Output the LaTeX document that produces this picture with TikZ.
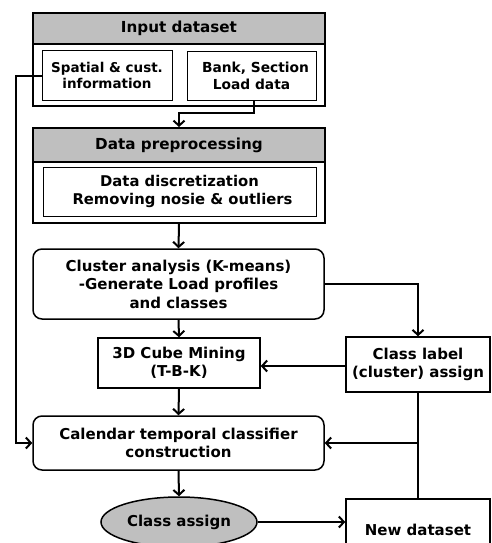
\documentclass[tikz,border=0pt]{standalone}
\usepackage{fontspec}
\setmainfont{DejaVu Sans}
\usetikzlibrary{arrows.meta,shapes.geometric}
\begin{document}
\begin{tikzpicture}[x=1pt,y=-1pt,
  txt/.style={font=\bfseries\fontsize{15}{18.5}\selectfont,align=center,inner sep=0pt},
  frame/.style={draw,line width=2pt,minimum width=292,inner sep=0pt},
  head/.style={frame,txt,fill=black!25,font=\bfseries\fontsize{15.2}{18}\selectfont},
  inner/.style={draw,line width=1pt,txt,inner sep=0pt,font=\bfseries\fontsize{14.8}{18}\selectfont},
  box/.style={draw,line width=1.5pt,txt},
  rbox/.style={box,rounded corners=9pt},
  arr/.style={line width=2pt,-{Straight Barb[length=5pt,width=11pt,line width=2pt]}},
  ln/.style={line width=2pt}]
\useasboundingbox (0,0) rectangle (491,543);
\begin{scope}
\clip (0,0) rectangle (491,543);
% Input dataset
\node[frame,minimum height=93] (inout) at (179,59.5) {};
\node[head,minimum height=31] (inhead) at (179,28.5) {Input dataset};
\node[inner,minimum width=130,minimum height=49,font=\bfseries\fontsize{13.5}{16.5}\selectfont] (spatial) at (107,75.5) {Spatial \& cust.\\information};
\node[inner,minimum width=129,minimum height=48,font=\bfseries\fontsize{13.8}{16.5}\selectfont] (bank) at (251.5,76) {\hspace*{8pt}Bank, Section\\Load data};
% Data preprocessing
\node[frame,minimum height=95] (preout) at (179,175.5) {};
\node[head,minimum height=34] (prehead) at (179,145) {Data preprocessing};
\node[inner,minimum width=273,minimum height=49] (preinner) at (179.5,191.5) {Data discretization\\\hspace*{6pt}Removing nosie \& outliers};
% Cluster
\node[rbox,minimum width=291,minimum height=70] (cluster) at (178.5,284) {Cluster analysis (K-means)\\-Generate Load profiles\\and classes};
\node[box,minimum width=162,minimum height=50] (cube) at (179,363) {3D Cube Mining\\(T-B-K)};
\node[box,minimum width=144,minimum height=55] (label) at (418,364.5) {Class label\\(cluster) assign};
\node[rbox,minimum width=291,minimum height=54] (cal) at (178.5,443) {Calendar temporal classifier\\construction};
\node[draw,line width=1.5pt,ellipse,fill=black!25,minimum width=156,minimum height=50,txt,inner sep=0pt] (ell) at (179,522) {Class assign};
\node[box,minimum width=144,minimum height=62] (nd) at (418,530) {New dataset};
% connectors
\draw[arr] ([xshift=2pt]bank.south) -- ++(0,12) -| (prehead.north);
\draw[arr] (preout.south) -- (cluster.north);
\draw[arr] (spatial.west) -- ++(-26,0) |- (cal.west);
\draw[arr] (cluster.east) -| (label.north);
\draw[arr] (cluster.south) -- (cube.north);
\draw[arr] ([yshift=-1.5pt]label.west) -- ([yshift=-1.5pt]label.west -| cube.east);
\draw[arr] (cube.south) -- (cal.north);
\draw[ln] (label.south) -- (nd.north);
\coordinate (j) at (label.south |- cal.east);
\draw[arr] (j) -- (cal.east);
\draw[arr] (cal.south) -- (ell.north);
\draw[arr] (ell.east) -- (ell.east -| nd.west);
\end{scope}
\end{tikzpicture}
\end{document}
